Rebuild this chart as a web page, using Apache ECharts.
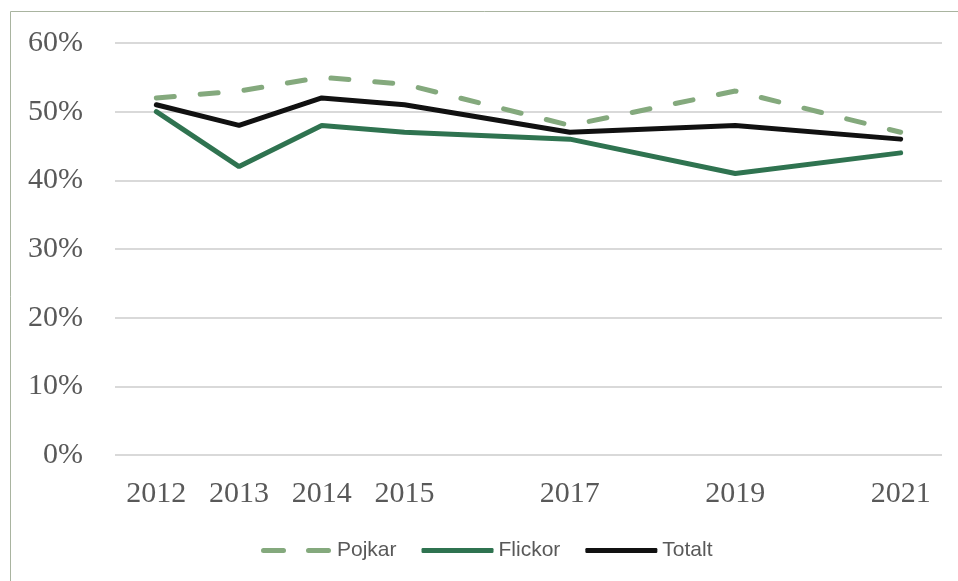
<!DOCTYPE html>
<html><head><meta charset="utf-8">
<script src="https://cdn.jsdelivr.net/npm/echarts@6/dist/echarts.min.js"></script>
<style>html,body{margin:0;padding:0;background:#fff}#c{width:958px;height:581px}</style>
</head><body><div id="c"></div>
<script>
const years = ['2012','2013','2014','2015','2016','2017','2018','2019','2020','2021'];
const shownYears = ['2012','2013','2014','2015','2017','2019','2021'];
const pojkar  = [52, 53, 55, 54, null, 48, null, 53, null, 47];
const flickor = [50, 42, 48, 47, null, 46, null, 41, null, 44];
const totalt  = [51, 48, 52, 51, null, 47, null, 48, null, 46];
const yTicks = [0, 10, 20, 30, 40, 50, 60];

const chart = echarts.init(document.getElementById('c'));
const serif = '"Liberation Serif", "DejaVu Serif", serif';
chart.setOption({
  animation: false,
  grid: {left: 115, right: 16, top: 43, bottom: 126},
  graphic: [{type: 'rect', shape: {x: 10.5, y: 11.5, width: 1000, height: 700}, style: {fill: 'none', stroke: '#a9b4a0', lineWidth: 1}, silent: true, z: -1}],
  xAxis: {
    type: 'category', data: years, boundaryGap: true,
    axisLine: {show: false}, axisTick: {show: false},
    axisLabel: {interval: 0, margin: 24, color: '#595959', fontFamily: serif, fontSize: 30,
      formatter: v => shownYears.includes(v) ? v : ''}
  },
  yAxis: {
    type: 'value', min: yTicks[0], max: yTicks[yTicks.length-1], interval: 10,
    axisLine: {show: false}, axisTick: {show: false},
    axisLabel: {margin: 32, color: '#595959', fontFamily: serif, fontSize: 30, formatter: v => v + '%'},
    splitLine: {lineStyle: {color: '#d9d9d9', width: 2}}
  },
  legend: {
    top: 535, left: 256, itemWidth: 72, itemHeight: 5, itemGap: 25,
    textStyle: {color: '#595959', fontFamily: '"Liberation Sans", Arial, sans-serif', fontSize: 21},
    data: [
      {name: 'Pojkar', icon: 'path://M2.5,0H22.5A2.5,2.5,0,0,1,22.5,5H2.5A2.5,2.5,0,0,1,2.5,0Z M47.5,0H67.5A2.5,2.5,0,0,1,67.5,5H47.5A2.5,2.5,0,0,1,47.5,0Z'},
      {name: 'Flickor', icon: 'roundRect'},
      {name: 'Totalt', icon: 'roundRect'}
    ]
  },
  series: [
    {name: 'Pojkar', type: 'line', data: pojkar, connectNulls: true, symbol: 'none',
      lineStyle: {color: '#84a97d', width: 5, type: [18, 26], cap: 'round'}, itemStyle: {color: '#84a97d'}},
    {name: 'Flickor', type: 'line', data: flickor, connectNulls: true, symbol: 'none',
      lineStyle: {color: '#2f7350', width: 5, cap: 'round'}, itemStyle: {color: '#2f7350'}},
    {name: 'Totalt', type: 'line', data: totalt, connectNulls: true, symbol: 'none',
      lineStyle: {color: '#111111', width: 5, cap: 'round'}, itemStyle: {color: '#111111'}}
  ]
});
</script></body></html>
